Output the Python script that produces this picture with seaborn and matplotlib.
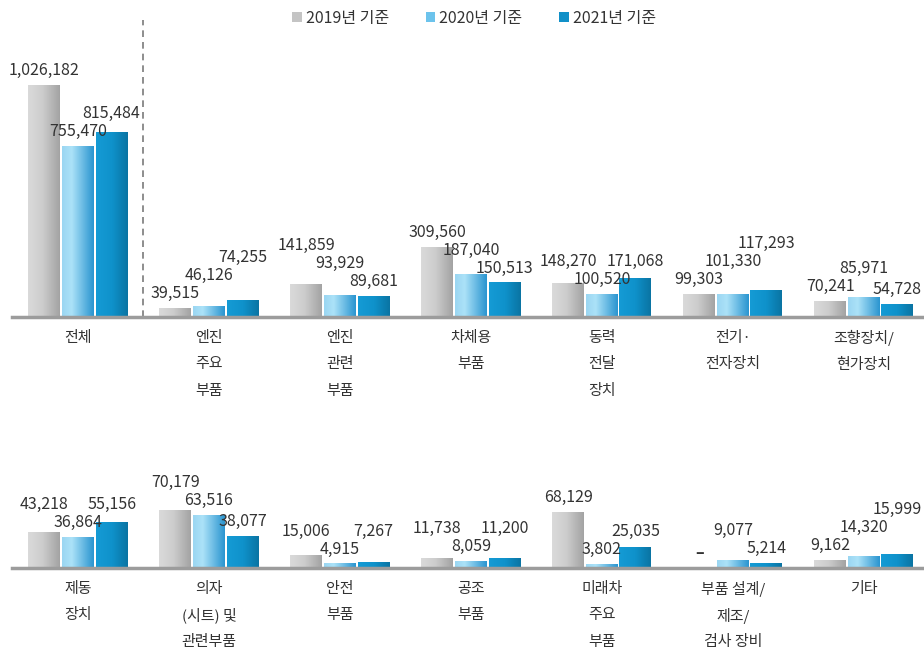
import numpy as np
import pandas as pd
import matplotlib
matplotlib.use("Agg")
import matplotlib.pyplot as plt
import seaborn as sns
from matplotlib.colors import to_rgb
from matplotlib.patches import Patch

# ---------------- data ----------------
years = ["2019년 기준", "2020년 기준", "2021년 기준"]

cats_top = ["전체", "엔진\n주요\n부품", "엔진\n관련\n부품", "차체용\n부품",
            "동력\n전달\n장치", "전기·\n전자장치", "조향장치/\n현가장치"]
v2019_top = [1026182, 39515, 141859, 309560, 148270, 99303, 70241]
v2020_top = [755470, 46126, 93929, 187040, 100520, 101330, 85971]
v2021_top = [815484, 74255, 89681, 150513, 171068, 117293, 54728]

cats_bot = ["제동\n장치", "의자\n(시트) 및\n관련부품", "안전\n부품", "공조\n부품",
            "미래차\n주요\n부품", "부품 설계/\n제조/\n검사 장비", "기타"]
v2019_bot = [43218, 70179, 15006, 11738, 68129, np.nan, 9162]
v2020_bot = [36864, 63516, 4915, 8059, 3802, 9077, 14320]
v2021_bot = [55156, 38077, 7267, 11200, 25035, 5214, 15999]

# ---------------- style ----------------
sns.set_theme(style="white")
plt.rcParams["font.family"] = ["Noto Sans CJK KR", "DejaVu Sans"]

mid_colors = ["#c4c4c4", "#6cc3ec", "#1190c8"]
grad_stops = [
    [(0.0, "#dadada"), (0.45, "#cdcdcd"), (1.0, "#a3a3a3")],
    [(0.0, "#9ad6f2"), (0.3, "#ace2f8"), (1.0, "#2a95d0")],
    [(0.0, "#159bd5"), (0.5, "#0f92cb"), (1.0, "#0a74a3")],
]
TXT = "#333333"


def gradient(stops, n=64):
    pos = [p for p, _ in stops]
    cols = np.array([to_rgb(c) for _, c in stops])
    t = np.linspace(0, 1, n)
    arr = np.stack([np.interp(t, pos, cols[:, i]) for i in range(3)], axis=-1)
    return arr[np.newaxis, :, :]


W, H = 924, 655
fig = plt.figure(figsize=(W / 100, H / 100), dpi=100)


def px_axes(left, top, right, bottom):
    return fig.add_axes([left / W, 1 - bottom / H, (right - left) / W, (bottom - top) / H])


def draw_row(ax, cats, series, ymax):
    df = pd.DataFrame({
        "cat": list(cats) * 3,
        "year": [y for y in years for _ in cats],
        "value": [v for s in series for v in s],
    })
    df["plot"] = df["value"].fillna(0)
    sns.barplot(data=df, x="cat", y="plot", hue="year", order=cats, hue_order=years,
                palette=mid_colors, width=0.77, gap=0.05, linewidth=0,
                legend=False, ax=ax, errorbar=None)
    xlim = (-0.504, 6.46)
    ax.set_xlim(*xlim)
    ax.set_ylim(0, ymax)

    # gradient fills
    for k, cont in enumerate(ax.containers):
        g = gradient(grad_stops[k])
        for rect in cont:
            h = rect.get_height()
            if h > 0:
                x0, w = rect.get_x(), rect.get_width()
                ax.imshow(g, extent=[x0, x0 + w, 0, h], aspect="auto",
                          interpolation="bicubic", zorder=rect.get_zorder() + 0.1)
    ax.set_xlim(*xlim)
    ax.set_ylim(0, ymax)
    ax.set_aspect("auto")

    # value labels with staggering to avoid overlaps
    pad, step = 15, 18
    for c in range(len(cats)):
        items = []
        for k, cont in enumerate(ax.containers):
            rect = cont[c]
            xc = rect.get_x() + rect.get_width() / 2
            val = series[k][c]
            top = rect.get_height()
            top_disp = ax.transData.transform((xc, top))[1]
            items.append((k, val, xc, top, top_disp))
        order = sorted(items, key=lambda it: 0 if np.isnan(it[1]) else it[1])
        placed = {}
        for k, val, xc, top, top_disp in order:
            y = top_disp + pad
            for _ in range(2):
                for j in (k - 1, k + 1):
                    if j in placed and abs(y - placed[j]) < step:
                        y = placed[j] + step
            placed[k] = y
            txt = "–" if np.isnan(val) else f"{int(val):,}"
            ax.annotate(txt, xy=(xc, top), xytext=(0, (y - top_disp) * 72 / 100),
                        textcoords="offset points", ha="center", va="center",
                        fontsize=11.5, color=TXT, zorder=5,
                        fontweight="bold" if np.isnan(val) else "normal")

    ax.set_xlabel("")
    ax.set_ylabel("")
    ax.set_yticks([])
    ax.set_xticks(range(len(cats)))
    ax.set_xticklabels([""] * len(cats))
    ax.tick_params(axis="x", length=0)
    # category labels, one line at a time for even spacing
    first, lh = 21, 26.5
    for i, cat in enumerate(cats):
        for j, line in enumerate(cat.split("\n")):
            ax.annotate(line, xy=(i, 0), xycoords=("data", "axes fraction"),
                        xytext=(0, -(first + j * lh) * 72 / 100), textcoords="offset points",
                        ha="center", va="center", fontsize=10.8, color=TXT,
                        annotation_clip=False)
    for s in ("left", "top", "right"):
        ax.spines[s].set_visible(False)
    ax.spines["bottom"].set_color("#9c9c9c")
    ax.spines["bottom"].set_linewidth(2.5)
    ax.set_facecolor("none")


ax_top = px_axes(12, 20, 924, 317)
ax_bot = px_axes(12, 440, 924, 568)

draw_row(ax_top, cats_top, [v2019_top, v2020_top, v2021_top], 1313700)
draw_row(ax_bot, cats_bot, [v2019_bot, v2020_bot, v2021_bot], 156000)

ax_top.axvline(0.5, color="#7a7a7a", lw=1.2, ls=(0, (4, 3)), zorder=0)

handles = [Patch(facecolor=c, edgecolor="none") for c in mid_colors]
fig.legend(handles, years, loc="center", bbox_to_anchor=(474 / W, 1 - 18 / H), ncol=3,
           frameon=False, fontsize=11.5, handlelength=0.6, handleheight=0.6,
           handletextpad=0.25, columnspacing=2.3, labelcolor=TXT)

fig.savefig("out.png", dpi=100, facecolor="white")
